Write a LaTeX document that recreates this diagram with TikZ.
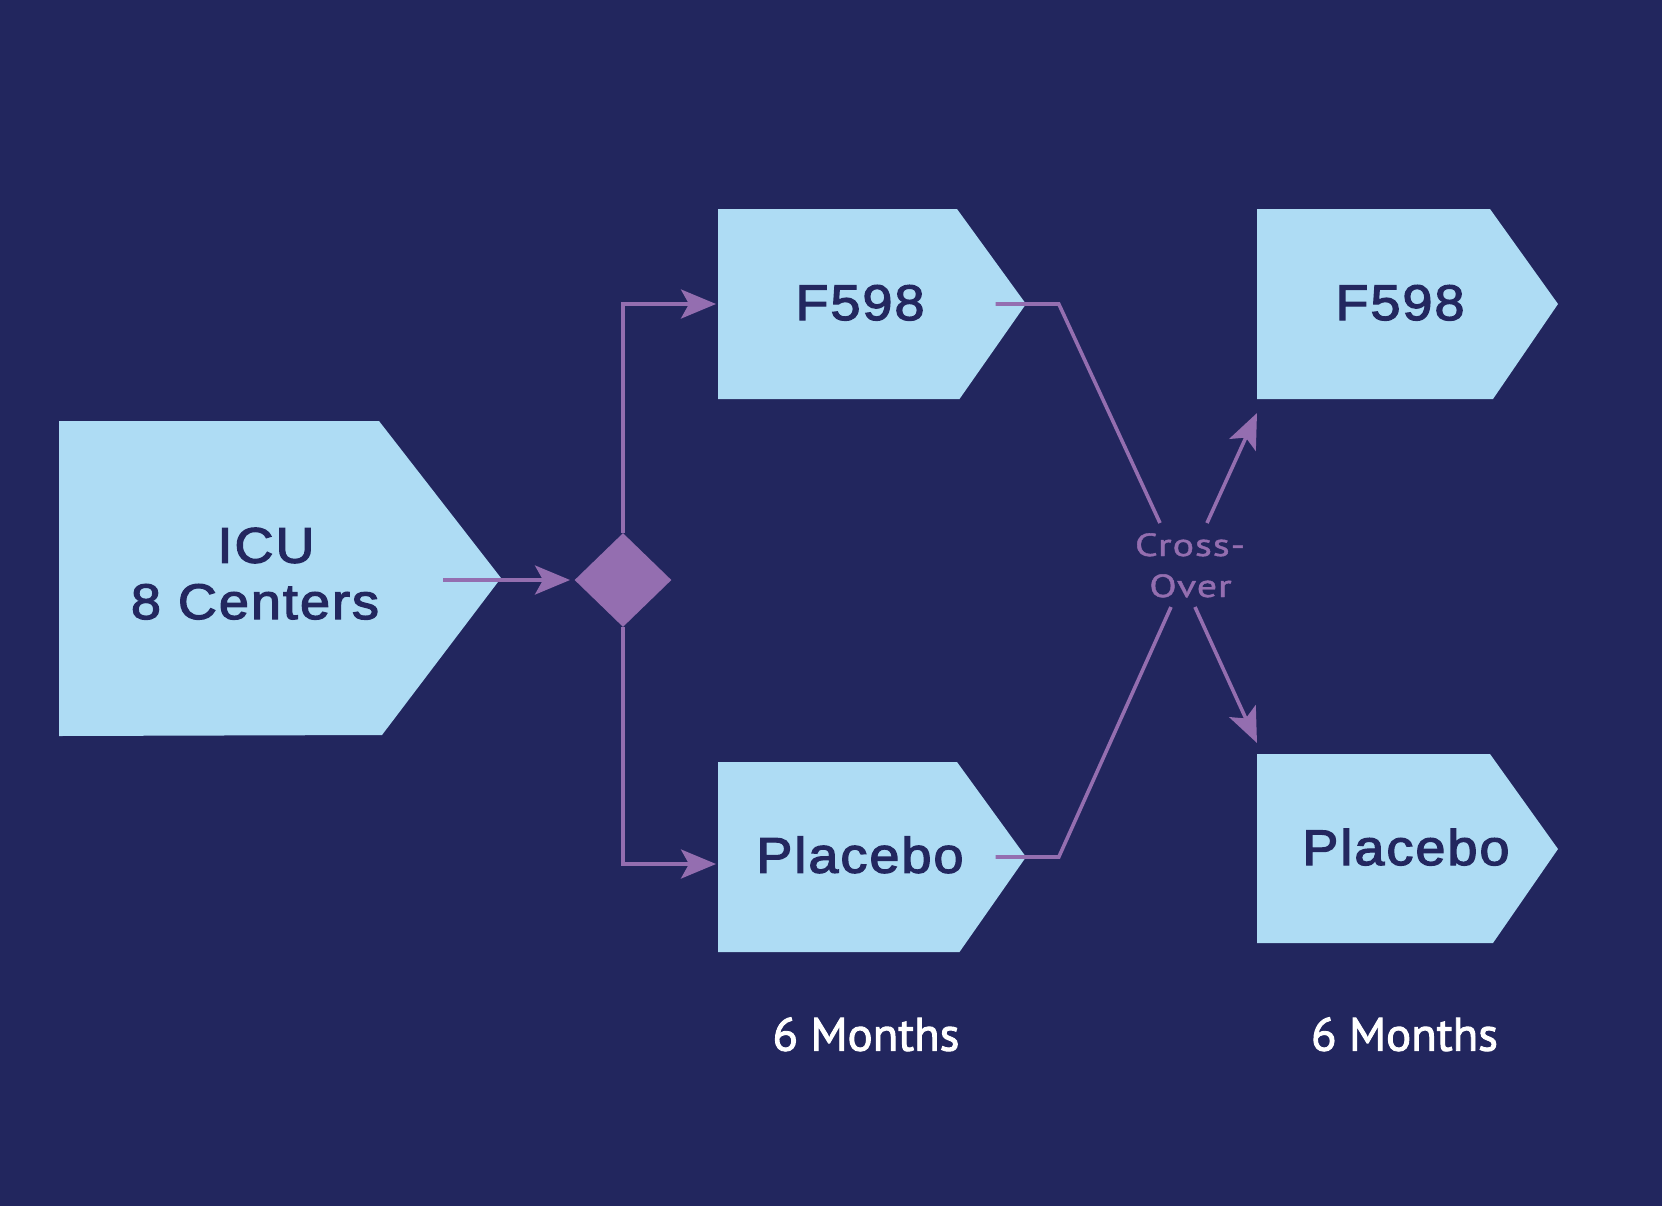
\documentclass[tikz,border=0pt]{standalone}
\usepackage{fontspec}
\setmainfont{Liberation Sans}
\newfontfamily\boxfont[FakeBold=2.5,FakeStretch=1.08,LetterSpace=4]{Liberation Sans}
\newfontfamily\dinfont[FakeBold=2]{PT Sans}
\newfontfamily\dinlight[FakeBold=1.2,FakeStretch=1.25,LetterSpace=3]{PT Sans}
\usetikzlibrary{arrows.meta,shapes.geometric}
\definecolor{bgnavy}{RGB}{34,38,94}
\definecolor{boxblue}{RGB}{174,220,244}
\definecolor{lilac}{RGB}{148,110,176}
\definecolor{inknavy}{RGB}{35,39,95}
\begin{document}
\begin{tikzpicture}[x=0.5pt,y=-0.5pt,
  armbox/.style={fill=boxblue},
  lbl/.style={text=inknavy, anchor=base, inner sep=0,
    font=\boxfont\fontsize{25}{28}\selectfont},
  months/.style={text=white, anchor=base, inner sep=0,
    font=\dinfont\fontsize{23.4}{26}\selectfont},
  xlbl/.style={text=lilac, anchor=base, inner sep=0,
    font=\dinlight\fontsize{16}{19}\selectfont},
  plain/.style={draw=lilac, line width=1.8pt},
  conn/.style={plain, -{Stealth[length=17.5pt,width=14.5pt,inset=4pt]}}]
\fill[bgnavy] (0,0) rectangle (1662,1206);
\useasboundingbox (0,0) rectangle (1662,1206);

% boxes
\path[armbox] (59,421) -- (379,421) -- (501,578) -- (382,735) -- (59,736) -- cycle;
\path[armbox] (718,209) -- (957,209) -- (1026,304) -- (959.5,399) -- (718,399) -- cycle;
\path[armbox] (718,762) -- (957,762) -- (1026,857) -- (959.5,952) -- (718,952) -- cycle;
\path[armbox] (1257,209) -- (1490,209) -- (1558,304) -- (1493,399) -- (1257,399) -- cycle;
\path[armbox] (1257,754) -- (1490,754) -- (1558,849) -- (1493,943) -- (1257,943) -- cycle;

% texts
\node[lbl] (icu1) at (266,562.7) {ICU};
\node[lbl] (icu2) at (255,619) {8 Centers};
\node[lbl] (f1) at (860,320) {F598};
\node[lbl] (p1) at (860,872.7) {Placebo};
\node[lbl] (f2) at (1400,320) {F598};
\node[lbl] (p2) at (1406,865) {Placebo};
\node[months] (m1) at (866,1050.7) {6 Months};
\node[months] (m2) at (1404.5,1050.7) {6 Months};
\node[xlbl] (x1) at (1190,556) {Cross-};
\node[xlbl] (x2) at (1190.5,597) {Over};

% randomisation diamond
\node[diamond, fill=lilac, inner sep=0, minimum width=48.5pt, minimum height=47pt] (rand) at (623,580) {};

% connector points
\coordinate (icuout) at (443,580);
\coordinate (randin) at (570,580);
\coordinate (f1in) at (716,304);
\coordinate (p1in) at (716,864);
\coordinate (f1out) at (995.6,304);
\coordinate (f1bend) at (1058.8,304);
\coordinate (xul) at (1160,523);
\coordinate (xur) at (1207,523);
\coordinate (f2in) at (1257,413);
\coordinate (p1out) at (995.6,857);
\coordinate (p1bend) at (1058.8,857);
\coordinate (xll) at (1171,607);
\coordinate (xlr) at (1195,607);
\coordinate (p2in) at (1257,743);

% connectors
\draw[conn] (icuout) -- (randin);
\draw[conn] (rand.north) |- (f1in);
\draw[conn] (rand.south) |- (p1in);
\draw[plain] (f1out) -- (f1bend) -- (xul);
\draw[plain] (p1out) -- (p1bend) -- (xll);
\draw[conn] (xur) -- (f2in);
\draw[conn] (xlr) -- (p2in);
\end{tikzpicture}
\end{document}
